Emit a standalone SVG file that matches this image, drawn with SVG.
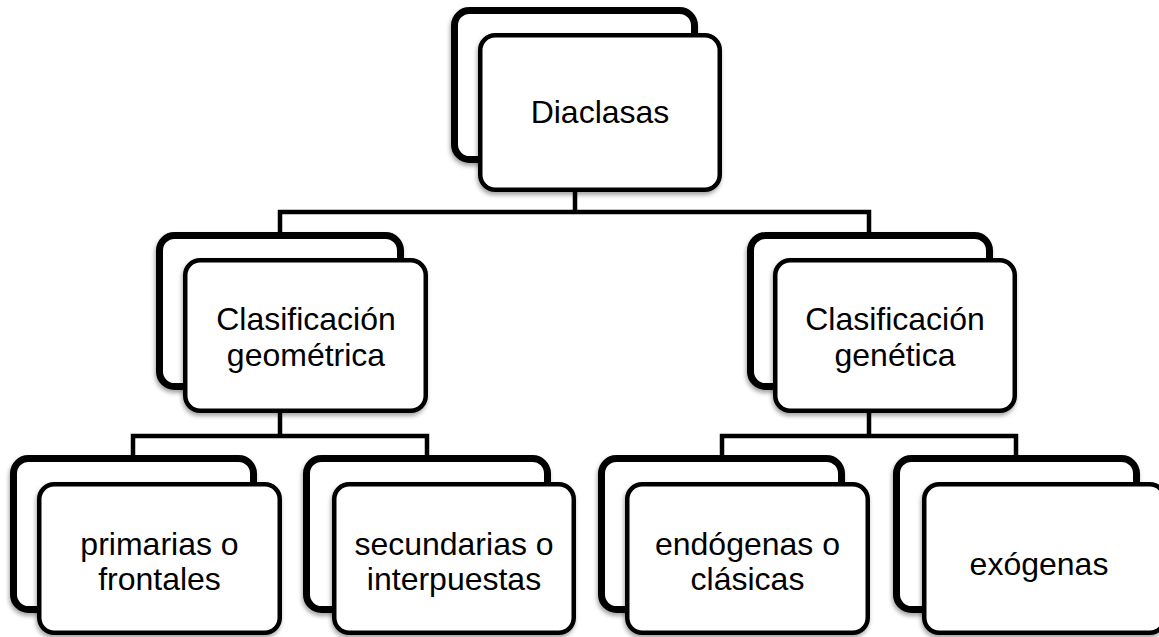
<svg xmlns="http://www.w3.org/2000/svg" width="1159" height="637" viewBox="0 0 1159 637">
<defs>
<filter id="sh" x="-10%" y="-10%" width="120%" height="125%">
<feDropShadow dx="-1" dy="3" stdDeviation="2" flood-color="#000" flood-opacity="0.35"/>
</filter>
</defs>
<style>
.back{fill:#fff;stroke:#000;stroke-width:7;filter:url(#sh)}
.front{fill:#fff;stroke:#000;stroke-width:4.5;filter:url(#sh)}
.conn{fill:none;stroke:#000;stroke-width:4.5;stroke-linejoin:miter}
text{font-family:"Liberation Sans",Arial,sans-serif;font-size:32px;fill:#000;text-anchor:middle}
</style>
<rect width="1159" height="637" fill="#fff"/>
<g id="connectors">
<path class="conn" d="M575,190 V212 M280,235 V212 H869 V235"/>
<path class="conn" d="M280,413 V436 M133,458 V436 H427 V458"/>
<path class="conn" d="M869,413 V436 M722,458 V436 H1016 V458"/>
</g>
<g id="n-diaclasas">
<rect class="back" x="454.5" y="10.5" width="240" height="149" rx="15"/>
<rect class="front" x="480.25" y="35.25" width="239.5" height="154.5" rx="15"/>
<text x="600" y="123">Diaclasas</text>
</g>
<g id="n-geometrica">
<rect class="back" x="159.5" y="235.5" width="241" height="151" rx="15"/>
<rect class="front" x="185.25" y="260.25" width="240.5" height="150.5" rx="15"/>
<text x="306" y="330">Clasificación</text>
<text x="306" y="366">geométrica</text>
</g>
<g id="n-genetica">
<rect class="back" x="750.5" y="235.5" width="239" height="151" rx="15"/>
<rect class="front" x="775.25" y="260.25" width="239.5" height="150.5" rx="15"/>
<text x="895" y="330">Clasificación</text>
<text x="895" y="366">genética</text>
</g>
<g id="n-primarias">
<rect class="back" x="13.5" y="458.5" width="240" height="151" rx="15"/>
<rect class="front" x="39.25" y="484.25" width="240.5" height="148.5" rx="15"/>
<text x="159.5" y="555">primarias o</text>
<text x="159.5" y="590">frontales</text>
</g>
<g id="n-secundarias">
<rect class="back" x="306.5" y="458.5" width="241" height="151" rx="15"/>
<rect class="front" x="334.25" y="484.25" width="239.5" height="148.5" rx="15"/>
<text x="454" y="555">secundarias o</text>
<text x="454" y="590">interpuestas</text>
</g>
<g id="n-endogenas">
<rect class="back" x="601.5" y="458.5" width="240" height="151" rx="15"/>
<rect class="front" x="627.25" y="484.25" width="240.5" height="148.5" rx="15"/>
<text x="747.5" y="555">endógenas o</text>
<text x="747.5" y="590">clásicas</text>
</g>
<g id="n-exogenas">
<rect class="back" x="896.5" y="458.5" width="240" height="151" rx="15"/>
<rect class="front" x="924.25" y="484.25" width="240.5" height="148.5" rx="15"/>
<text x="1039" y="575">exógenas</text>
</g>
</svg>
